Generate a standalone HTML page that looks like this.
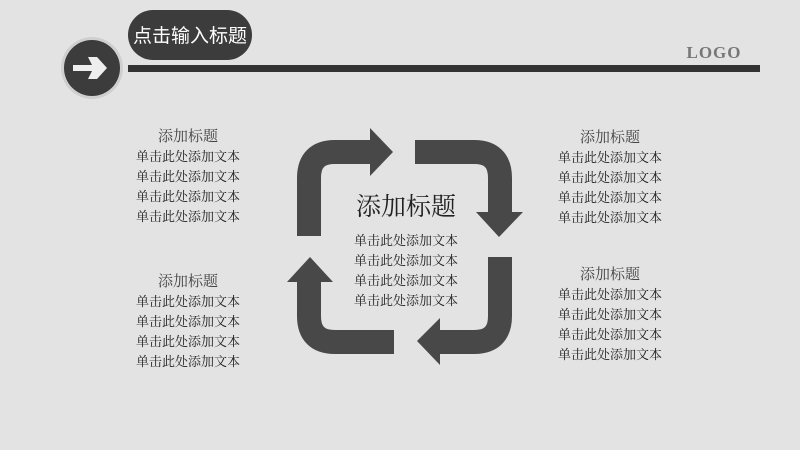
<!DOCTYPE html>
<html><head><meta charset="utf-8"><style>
body{margin:0;width:800px;height:450px;background:#e3e3e3;position:relative;overflow:hidden;font-family:"Liberation Sans","Noto Sans CJK SC",sans-serif;}
.t{position:absolute;color:#222;white-space:nowrap;text-align:center;}
.blk{position:absolute;width:120px;text-align:center;color:#1e1e1e;font-size:13px;line-height:20px;font-family:"Liberation Serif","Noto Serif CJK SC",serif;}
.blk .h{font-size:15px;color:#444;line-height:20px;}
</style></head><body>
<svg width="800" height="450" style="position:absolute;left:0;top:0">
<circle cx="92" cy="68" r="31" fill="#cfcfcf"/>
<circle cx="92" cy="68" r="28" fill="#3c3c3c"/>
<path d="M73 65 H92 L88 57 L97 57 L107 68 L97 79 L88 79 L92 71 H73 Z" fill="#eee"/>
<rect x="128" y="10" width="124" height="50" rx="25" fill="#3c3c3c"/>
<rect x="128" y="65" width="632" height="7" fill="#333"/>
<g stroke="#484848" stroke-width="24" fill="none">
<path d="M309 236 V178 Q309 152 335 152 H372"/>
<path d="M415 152 H474 Q500 152 500 178 V214"/>
<path d="M500 257 V316 Q500 342 474 342 H438"/>
<path d="M394 342 H335 Q309 342 309 316 V280"/>
</g>
<g fill="#484848">
<polygon points="370,128 393,152 370,176"/>
<polygon points="476,212 523,212 499,237"/>
<polygon points="440,318 440,365 417,341"/>
<polygon points="287,282 333,282 310,257"/>
</g>
<text x="714" y="58" font-family="Liberation Serif,serif" font-size="17" font-weight="bold" fill="#777" text-anchor="middle" letter-spacing="1">LOGO</text>
</svg>
<div class="t" style="left:128px;top:21px;width:124px;font-size:19px;color:#fff;">点击输入标题</div>
<div class="blk" style="left:128px;top:127px"><div class="h">添加标题</div>单击此处添加文本<br>单击此处添加文本<br>单击此处添加文本<br>单击此处添加文本</div>
<div class="blk" style="left:550px;top:128px"><div class="h">添加标题</div>单击此处添加文本<br>单击此处添加文本<br>单击此处添加文本<br>单击此处添加文本</div>
<div class="blk" style="left:128px;top:272px"><div class="h">添加标题</div>单击此处添加文本<br>单击此处添加文本<br>单击此处添加文本<br>单击此处添加文本</div>
<div class="blk" style="left:550px;top:265px"><div class="h">添加标题</div>单击此处添加文本<br>单击此处添加文本<br>单击此处添加文本<br>单击此处添加文本</div>
<div class="blk" style="left:346px;top:190px;"><div class="h" style="font-size:25px;line-height:36px;color:#222;">添加标题</div><div style="margin-top:5px">单击此处添加文本<br>单击此处添加文本<br>单击此处添加文本<br>单击此处添加文本</div></div>
</body></html>
